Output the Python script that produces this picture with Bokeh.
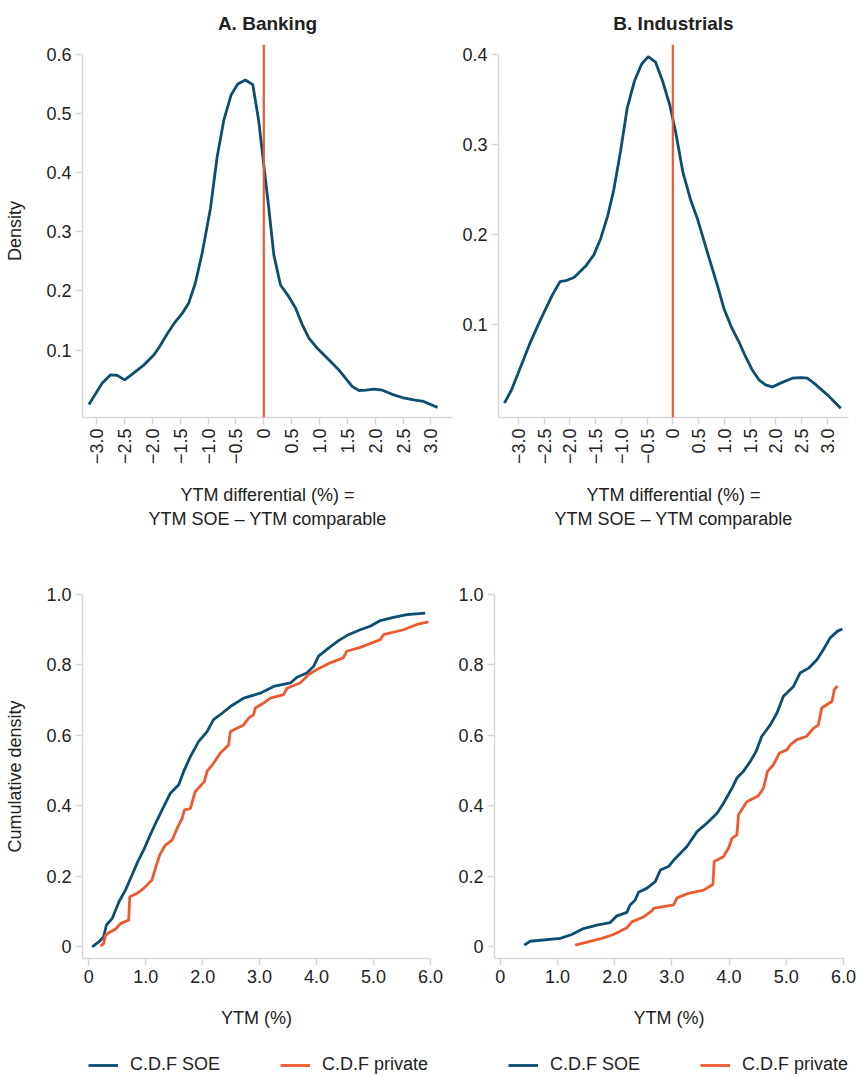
from bokeh.plotting import figure
from bokeh.layouts import column, row
from bokeh.models import Span, Range1d, FixedTicker, Legend, LegendItem
from bokeh.embed import file_html
from bokeh.resources import INLINE

# ---------------- data ----------------
diff_ticks = [-3.0, -2.5, -2.0, -1.5, -1.0, -0.5, 0.0, 0.5, 1.0, 1.5, 2.0, 2.5, 3.0]
diff_tick_labels = ["\u22123.0", "\u22122.5", "\u22122.0", "\u22121.5", "\u22121.0", "\u22120.5",
                    "0", "0.5", "1.0", "1.5", "2.0", "2.5", "3.0"]
bank_density_ticks = [0.1, 0.2, 0.3, 0.4, 0.5, 0.6]
bank_density_labels = ["0.1", "0.2", "0.3", "0.4", "0.5", "0.6"]
ind_density_ticks = [0.1, 0.2, 0.3, 0.4]
ind_density_labels = ["0.1", "0.2", "0.3", "0.4"]
ytm_ticks = [0, 1, 2, 3, 4, 5, 6]
ytm_tick_labels = ["0", "1.0", "2.0", "3.0", "4.0", "5.0", "6.0"]
cdf_ticks = [0, 0.2, 0.4, 0.6, 0.8, 1.0]
cdf_tick_labels = ["0", "0.2", "0.4", "0.6", "0.8", "1.0"]

bank_diff = [-3.14, -2.90, -2.75, -2.63, -2.50, -2.39, -2.15, -1.97, -1.87, -1.73, -1.61,
             -1.465, -1.35, -1.23, -1.106, -0.957, -0.837, -0.718, -0.585, -0.467, -0.33,
             -0.197, -0.09, 0.0, 0.09, 0.18, 0.30, 0.43, 0.57, 0.69, 0.81, 0.96, 1.14, 1.35,
             1.47, 1.59, 1.71, 1.83, 1.975, 2.13, 2.305, 2.485, 2.69, 2.87, 3.12]
bank_density = [0.008, 0.044, 0.058, 0.057, 0.0495, 0.057, 0.075, 0.092, 0.106, 0.128, 0.145,
                0.162, 0.179, 0.213, 0.264, 0.340, 0.427, 0.489, 0.532, 0.550, 0.557,
                0.549, 0.487, 0.413, 0.340, 0.261, 0.210, 0.193, 0.171, 0.143, 0.120, 0.103,
                0.086, 0.066, 0.052, 0.038, 0.0315, 0.032, 0.034, 0.032, 0.025, 0.0196,
                0.0157, 0.0129, 0.003]

ind_diff = [-3.27, -3.13, -2.99, -2.76, -2.57, -2.34, -2.19, -2.08, -1.92, -1.695, -1.53,
            -1.40, -1.27, -1.146, -1.016, -0.886, -0.744, -0.608, -0.478, -0.336, -0.194,
            -0.058, 0.052, 0.194, 0.344, 0.474, 0.668, 0.862, 0.99, 1.14, 1.28, 1.41, 1.54,
            1.67, 1.80, 1.93, 2.09, 2.32, 2.48, 2.61, 2.74, 3.00, 3.26]
ind_density = [0.0129, 0.0278, 0.048, 0.0814, 0.1055, 0.133, 0.148, 0.149, 0.1526, 0.165,
               0.178, 0.196, 0.220, 0.250, 0.2926, 0.3407, 0.371, 0.3896, 0.398, 0.392,
               0.370, 0.344, 0.315, 0.270, 0.239, 0.2185, 0.181, 0.1444, 0.1185, 0.097,
               0.0814, 0.0648, 0.050, 0.0389, 0.0333, 0.031, 0.0352, 0.0407, 0.0414, 0.0407,
               0.0352, 0.0222, 0.0074]

bank_soe_ytm = [0.06, 0.175, 0.26, 0.31, 0.41, 0.53, 0.644, 0.76, 0.86, 0.965, 1.08, 1.20,
                1.316, 1.433, 1.58, 1.667, 1.784, 1.93, 2.077, 2.19, 2.34, 2.486, 2.72, 3.01,
                3.246, 3.54, 3.656, 3.83, 3.947, 4.035, 4.21, 4.386, 4.56, 4.767, 4.94, 5.12,
                5.35, 5.586, 5.907]
bank_soe_cdf = [0.0, 0.014, 0.028, 0.062, 0.080, 0.128, 0.161, 0.204, 0.242, 0.275, 0.318,
                0.360, 0.398, 0.436, 0.460, 0.498, 0.540, 0.583, 0.611, 0.645, 0.663, 0.682,
                0.706, 0.720, 0.739, 0.749, 0.765, 0.777, 0.796, 0.825, 0.848, 0.869, 0.886,
                0.900, 0.910, 0.926, 0.935, 0.943, 0.947]
bank_priv_ytm = [0.205, 0.26, 0.293, 0.38, 0.468, 0.556, 0.70, 0.72, 0.85, 0.965, 1.11, 1.17,
                 1.246, 1.346, 1.463, 1.55, 1.64, 1.68, 1.784, 1.87, 2.03, 2.077, 2.19, 2.31,
                 2.456, 2.486, 2.72, 2.807, 2.895, 2.925, 3.07, 3.19, 3.42, 3.48, 3.71, 3.86,
                 4.007, 4.24, 4.47, 4.53, 4.767, 5.12, 5.175, 5.526, 5.76, 5.965]
bank_priv_cdf = [0.002, 0.009, 0.033, 0.043, 0.050, 0.066, 0.076, 0.142, 0.152, 0.166, 0.190,
                 0.223, 0.261, 0.289, 0.303, 0.336, 0.365, 0.389, 0.392, 0.441, 0.469, 0.498,
                 0.521, 0.550, 0.573, 0.611, 0.630, 0.649, 0.659, 0.678, 0.692, 0.706, 0.716,
                 0.734, 0.749, 0.773, 0.787, 0.806, 0.820, 0.839, 0.850, 0.872, 0.886, 0.900,
                 0.915, 0.922]

ind_soe_ytm = [0.42, 0.524, 1.05, 1.25, 1.456, 1.69, 1.922, 2.04, 2.214, 2.27, 2.36, 2.417,
               2.56, 2.71, 2.80, 2.94, 3.06, 3.26, 3.44, 3.61, 3.79, 3.90, 4.05, 4.137, 4.25,
               4.37, 4.47, 4.57, 4.72, 4.835, 4.95, 5.126, 5.24, 5.39, 5.535, 5.65, 5.767,
               5.895, 5.98]
ind_soe_cdf = [0.005, 0.016, 0.024, 0.035, 0.052, 0.062, 0.069, 0.088, 0.098, 0.119, 0.133,
               0.155, 0.166, 0.185, 0.218, 0.228, 0.251, 0.284, 0.327, 0.351, 0.379, 0.407,
               0.450, 0.479, 0.498, 0.526, 0.554, 0.597, 0.630, 0.663, 0.711, 0.739, 0.777,
               0.791, 0.815, 0.844, 0.877, 0.896, 0.902]
ind_priv_ytm = [1.31, 1.777, 1.98, 2.214, 2.30, 2.505, 2.65, 2.68, 3.03, 3.09, 3.29, 3.553,
                3.717, 3.74, 3.90, 3.99, 4.05, 4.137, 4.165, 4.31, 4.514, 4.60, 4.672, 4.776,
                4.88, 5.01, 5.07, 5.185, 5.35, 5.475, 5.56, 5.62, 5.80, 5.84, 5.895]
ind_priv_cdf = [0.005, 0.024, 0.035, 0.054, 0.071, 0.085, 0.102, 0.109, 0.119, 0.139, 0.152,
                0.161, 0.177, 0.242, 0.256, 0.280, 0.308, 0.318, 0.375, 0.412, 0.429, 0.450,
                0.498, 0.517, 0.550, 0.559, 0.573, 0.588, 0.597, 0.620, 0.630, 0.678, 0.697,
                0.730, 0.741]

panel_titles = ["A. Banking", "B. Industrials"]
diff_axis_title = "YTM differential (%) =\nYTM SOE \u2013 YTM comparable"
ytm_axis_title = "YTM (%)"
series_names = ["C.D.F SOE", "C.D.F private"]

# ---------------- style ----------------
BLUE = "#0d4d70"
ORANGE = "#ee5a30"
AXC = "#d6d6d6"
TXT = "#222222"
FONT = "Liberation Sans"
TICK_FS = "18px"
LAB_FS = "18px"


def style(p, xticks, xlabels, yticks, ylabels):
    p.outline_line_color = None
    p.xgrid.visible = False
    p.ygrid.visible = False
    p.background_fill_color = "white"
    p.border_fill_color = "white"
    p.xaxis.ticker = FixedTicker(ticks=xticks)
    p.xaxis.major_label_overrides = dict(zip(xticks, xlabels))
    p.yaxis.ticker = FixedTicker(ticks=yticks)
    p.yaxis.major_label_overrides = dict(zip(yticks, ylabels))
    for ax in p.xaxis + p.yaxis:
        ax.axis_line_color = AXC
        ax.axis_line_width = 1.5
        ax.major_tick_line_color = AXC
        ax.major_tick_line_width = 1.5
        ax.minor_tick_line_color = None
        ax.major_tick_in = 0
        ax.major_tick_out = 7
        ax.major_label_text_font = FONT
        ax.major_label_text_font_size = TICK_FS
        ax.major_label_text_color = TXT
        ax.axis_label_text_font = FONT
        ax.axis_label_text_font_size = LAB_FS
        ax.axis_label_text_font_style = "normal"
        ax.axis_label_text_color = TXT
        ax.major_label_standoff = 4


def density_fig(xs, ys, title, yticks, ylabels, xr, yr, ytop, left, fw, right, ylabel=None):
    p = figure(frame_width=fw, frame_height=373, x_range=Range1d(*xr), y_range=Range1d(*yr),
               output_backend="svg", toolbar_location=None,
               min_border_left=left, min_border_right=right, min_border_top=43,
               min_border_bottom=144)
    style(p, diff_ticks, diff_tick_labels, yticks, ylabels)
    p.title.text = title
    p.title.align = "center"
    p.title.text_font = FONT
    p.title.text_font_size = "19px"
    p.title.text_font_style = "bold"
    p.title.text_color = TXT
    p.title.standoff = 21
    p.xaxis.major_label_orientation = 3.14159265 / 2
    p.xaxis.axis_label = diff_axis_title
    p.xaxis.axis_label_standoff = 18
    p.yaxis.bounds = (yr[0], ytop)
    if ylabel:
        p.yaxis.axis_label = ylabel
        p.yaxis.axis_label_standoff = 18
    p.line(xs, ys, line_color=BLUE, line_width=2.8)
    p.add_layout(Span(location=0, dimension="height", line_color=ORANGE, line_width=2.2))
    return p


def cdf_fig(sx, sy, px, py, xr, left, fw, right, ylabel=None):
    p = figure(frame_width=fw, frame_height=364, x_range=Range1d(*xr), y_range=Range1d(-0.033, 1.0),
               output_backend="svg", toolbar_location=None,
               min_border_left=left, min_border_right=right, min_border_top=33,
               min_border_bottom=90)
    style(p, ytm_ticks, ytm_tick_labels, cdf_ticks, cdf_tick_labels)
    p.xaxis.axis_label = ytm_axis_title
    p.xaxis.axis_label_standoff = 22
    if ylabel:
        p.yaxis.axis_label = ylabel
        p.yaxis.axis_label_standoff = 18
    p.line(sx, sy, line_color=BLUE, line_width=2.8)
    p.line(px, py, line_color=ORANGE, line_width=2.8)
    return p


def legend_fig(width, dx, sx, sy, px, py):
    # legend-only strip: the series are drawn off-screen, only the legend shows
    p = figure(width=width, height=29, x_range=Range1d(-100, -99), y_range=Range1d(-100, -99),
               output_backend="svg", toolbar_location=None, min_border=0)
    p.axis.visible = False
    p.xgrid.visible = False
    p.ygrid.visible = False
    p.outline_line_color = None
    r1 = p.line(sx, sy, line_color=BLUE, line_width=2.8)
    r2 = p.line(px, py, line_color=ORANGE, line_width=2.8)
    leg = Legend(items=[LegendItem(label=series_names[0], renderers=[r1]),
                        LegendItem(label=series_names[1], renderers=[r2])],
                 orientation="horizontal", location=(dx, 2),
                 border_line_color=None, background_fill_alpha=0,
                 glyph_width=30, glyph_height=18, label_standoff=12, spacing=60,
                 label_text_font=FONT, label_text_font_size="18px", label_text_color=TXT,
                 label_height=18, padding=2, margin=0)
    p.add_layout(leg, "center")
    return p


p1 = density_fig(bank_diff, bank_density, panel_titles[0], bank_density_ticks, bank_density_labels,
                 (-3.255, 3.388), (-0.0142, 0.617), 0.6, 82, 370, 3, ylabel="Density")
p2 = density_fig(ind_diff, ind_density, panel_titles[1], ind_density_ticks, ind_density_labels,
                 (-3.384, 3.41), (-0.003, 0.4115), 0.4, 43, 350, 12)
p3 = cdf_fig(bank_soe_ytm, bank_soe_cdf, bank_priv_ytm, bank_priv_cdf, (-0.11, 6.0), 82, 348, 24,
             ylabel="Cumulative density")
p4 = cdf_fig(ind_soe_ytm, ind_soe_cdf, ind_priv_ytm, ind_priv_cdf, (-0.10, 6.0), 40, 349, 17)
l3 = legend_fig(454, 88, bank_soe_ytm, bank_soe_cdf, bank_priv_ytm, bank_priv_cdf)
l4 = legend_fig(406, 54, ind_soe_ytm, ind_soe_cdf, ind_priv_ytm, ind_priv_cdf)

layout = column(row(p1, p2), row(p3, p4), row(l3, l4))
open("out.html", "w").write(file_html(layout, INLINE))
